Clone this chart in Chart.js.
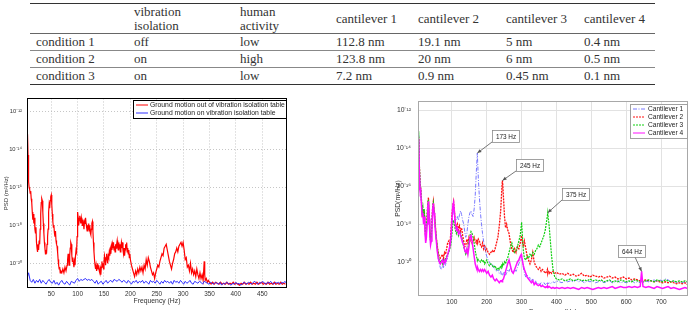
<!DOCTYPE html>
<html>
<head>
<meta charset="utf-8">
<script src="https://cdn.jsdelivr.net/npm/chart.js@4.4.0/dist/chart.umd.min.js"></script>
<style>
  body { margin: 0; width: 694px; height: 310px; overflow: hidden; background: #fff; position: relative; }
  #tbl { position: absolute; left: 30px; top: 3px; width: 625px; border-collapse: collapse; table-layout: fixed;
         font-family: "Liberation Serif", "DejaVu Serif", serif; font-size: 13px; color: #333; }
  #tbl td { padding: 0 0 0 6px; white-space: nowrap; vertical-align: middle; }
  #tbl tr.hd td { height: 29px; line-height: 14px; border-top: 1.5px solid #333; border-bottom: 1px solid #666; }
  #tbl tr.rw td { height: 16px; line-height: 16px; border-bottom: 1px solid #888; }
  #tbl tr.rw.last td { border-bottom: 1.5px solid #333; }
  .box { position: absolute; }
</style>
</head>
<body>
<table id="tbl"></table>
<div class="box" style="left:0;top:90px;width:300px;height:220px"><canvas id="c1" width="300" height="220"></canvas></div>
<div class="box" style="left:380px;top:90px;width:314px;height:230px"><canvas id="c2" width="314" height="230"></canvas></div>
<script>
// ---- table values ----
var tableHead = ['', 'vibration\nisolation', 'human\nactivity', 'cantilever 1', 'cantilever 2', 'cantilever 3', 'cantilever 4'];
var conditions = ['condition 1', 'condition 2', 'condition 3'];
var isolation = ['off', 'on', 'on'];
var activity = ['low', 'high', 'low'];
var cant1 = ['112.8 nm', '123.8 nm', '7.2 nm'];
var cant2 = ['19.1 nm', '20 nm', '0.9 nm'];
var cant3 = ['5 nm', '6 nm', '0.45 nm'];
var cant4 = ['0.4 nm', '0.5 nm', '0.1 nm'];

// ---- left plot: ground motion, PSD as log10 values ----
var leftXTicks = [50, 100, 150, 200, 250, 300, 350, 400, 450];
var psdTicks = [1e-20, 1e-18, 1e-16, 1e-14, 1e-12];

var redFreq = [4,5,6,7,8,9,10,11,12,13,14,15,16,17,18,19,20,21,22,23,24,25,26,27,28,29,30,31,32,33,34,35,36,37,38,39,40,
  41,42,43,44,45,46,47,48,49,50,51,52,53,54,55,56,57,58,59,60,61,62,63,64,65,66,67,68,70,72,74,76,78,80,
  81,82,83,84,85,86,87,88,89,90,91,92,93,94,95,96,97,98,99,
  100,101,102,103,104,105,106,107,108,109,110,111,112,113,114,115,116,117,118,119,120,121,122,123,124,125,126,127,128,129,
  130,131,132,133,134,135,136,137,138,139,140,141,142,143,144,145,146,147,148,149,150,151,152,153,154,155,156,157,158,159,
  160,161,162,163,164,165,166,167,168,169,170,171,172,173,174,175,176,177,178,179,180,181,182,183,184,185,186,187,188,189,
  190,191,192,193,194,195,196,197,198,199,200,
  202,204,206,208,210,212,214,216,218,220,222,224,226,228,230,232,234,236,238,240,242,244,246,248,250,252,254,256,258,260,
  262,264,266,268,270,272,274,276,278,280,282,284,286,288,290,292,294,296,298,300,302,304,306,308,310,312,314,316,318,320,
  322,324,326,328,330,332,334,336,338,340,341,342,344,346,348,350,
  353,356,359,362,365,368,371,374,377,380,383,386,389,392,395,398,401,404,407,410,413,416,419,422,425,428,431,434,437,440,
  443,446,449,452,455,458,461,464,467,470,473,476,479,482,485,488,491,494];
var redLog = [-15.6,-13.2,-14.3,-15.7,-16.0,-16.1,-16.3,-16.2,-16.6,-16.8,-17.3,-17.7,-17.4,-17.9,-17.6,-18.2,-18.4,-18.1,-18.9,-19.2,-19.4,-19.0,-19.3,-18.8,-19.0,-18.2,-17.4,-16.8,-16.6,-16.7,-17.3,-17.9,-18.4,-18.9,-19.2,-19.5,-19.3,
  -19.5,-19.0,-18.6,-18.2,-17.3,-16.9,-17.1,-16.7,-16.5,-16.4,-16.9,-17.4,-17.8,-18.1,-18.0,-18.4,-18.6,-18.3,-18.8,-19.0,-19.1,-19.4,-19.8,-20.1,-20.3,-20.2,-20.5,-20.4,-20.5,-20.3,-20.5,-20.2,-20.4,-20.1,
  -19.8,-19.5,-19.8,-20.1,-19.6,-19.2,-18.9,-19.0,-19.6,-19.9,-19.7,-20.0,-20.2,-19.9,-20.1,-19.6,-19.3,-19.4,-18.6,
  -17.3,-17.6,-18.0,-17.7,-17.5,-17.7,-17.9,-17.6,-17.8,-18.0,-17.7,-17.9,-18.2,-17.8,-17.9,-17.6,-17.9,-18.1,-18.3,-18.0,-18.2,-17.9,-18.3,-18.0,-18.4,-18.5,-18.2,-17.9,-17.8,-18.3,
  -18.9,-19.4,-19.8,-20.1,-20.3,-20.1,-20.4,-20.2,-20.0,-20.3,-20.1,-20.4,-20.5,-20.3,-20.6,-20.2,-19.9,-20.2,-20.0,-20.3,-19.9,-19.6,-19.8,-20.1,-19.7,-19.5,-19.8,-20.0,-19.6,-19.7,
  -19.4,-19.6,-19.3,-19.5,-19.1,-19.3,-19.0,-19.2,-18.9,-19.3,-19.1,-19.4,-19.0,-19.2,-19.0,-18.8,-19.1,-19.3,-18.9,-19.2,-19.0,-19.4,-19.1,-18.9,-19.2,-18.9,-19.3,-19.5,-19.2,-19.6,
  -19.3,-19.0,-19.2,-18.9,-19.4,-19.2,-19.5,-19.3,-19.7,-19.5,-19.8,
  -20.1,-20.3,-20.5,-20.7,-20.4,-20.6,-20.3,-20.5,-20.2,-20.4,-20.2,-20.5,-20.1,-20.3,-19.8,-20.1,-19.7,-19.9,-20.2,-20.4,-20.6,-20.5,-20.8,-20.5,-20.3,-20.1,-20.2,-19.9,-19.7,-19.5,
  -19.6,-19.2,-19.1,-19.0,-19.3,-19.6,-19.9,-20.1,-20.3,-20.0,-19.8,-19.5,-19.4,-19.2,-19.4,-19.1,-19.0,-18.9,-19.1,-18.9,-19.3,-19.8,-19.7,-20.2,-20.1,-20.4,-20.0,-20.5,-20.3,-20.6,
  -20.4,-20.7,-20.3,-20.6,-20.8,-20.5,-20.8,-20.6,-20.9,-19.9,-20.6,-20.9,-20.8,-21.0,-20.9,-21.0,
  -21.1,-21.0,-21.1,-21.0,-21.05,-21.1,-21.0,-21.1,-21.05,-21.1,-21.0,-21.1,-21.05,-21.1,-21.0,-21.1,-21.05,-21.1,-21.15,-21.05,-21.1,-21.0,-21.1,-21.05,-21.1,-21.0,-21.1,-21.05,-21.1,-21.0,
  -21.1,-21.05,-21.0,-21.1,-21.05,-21.1,-21.0,-21.1,-21.05,-21.1,-21.0,-21.1,-21.05,-21.1,-21.0,-21.1,-21.05,-21.1];

var blueFreq = [4,7,10,13,16,19,22,25,28,31,34,37,40,43,46,49,52,55,58,61,64,67,70,73,76,79,82,85,88,91,
  94,97,100,103,106,109,112,115,118,121,124,127,130,133,136,139,142,145,148,151,154,157,160,163,166,169,172,175,178,181,
  184,187,190,193,196,199,202,205,208,211,214,217,220,223,226,229,232,235,238,241,244,247,250,253,256,259,262,265,268,271,
  274,277,280,283,286,289,292,295,298,301,304,307,310,313,316,319,322,325,328,331,334,337,340,343,346,349,352,355,358,361,
  364,367,370,373,376,379,382,385,388,391,394,397,400,403,406,409,412,415,418,421,424,427,430,433,436,439,442,445,448,451,
  454,457,460,463,466,469,472,475,478,481,484,487,490,493,496];
var blueLog = [-20.8,-20.5,-20.9,-21.0,-20.85,-21.05,-20.9,-21.0,-20.85,-21.05,-20.9,-21.0,-21.1,-20.95,-20.85,-21.0,-21.05,-20.9,-21.1,-21.0,
  -21.15,-21.0,-20.9,-21.05,-21.1,-20.95,-21.05,-21.15,-20.95,-21.0,-21.05,-20.9,-20.8,-20.95,-20.85,-20.9,-20.85,-20.8,-20.9,-20.85,
  -20.9,-20.85,-20.95,-21.05,-20.9,-21.1,-21.0,-20.95,-21.1,-21.0,-20.9,-21.05,-20.95,-20.9,-21.0,-20.85,-20.9,-20.95,-20.85,-20.9,
  -21.0,-20.9,-20.95,-21.05,-20.9,-21.0,-21.1,-20.95,-21.0,-20.9,-21.05,-20.95,-21.0,-20.9,-21.05,-20.95,-21.0,-21.1,-20.9,-21.0,
  -20.95,-21.05,-20.9,-21.0,-21.1,-20.95,-21.05,-20.9,-21.0,-20.95,-21.05,-20.95,-21.1,-20.9,-21.0,-20.95,-21.05,-20.9,-21.0,-21.1,
  -20.95,-21.05,-21.0,-20.9,-21.05,-21.1,-20.95,-21.0,-21.05,-20.95,-21.0,-21.1,-20.95,-21.0,-21.05,-21.1,-21.0,-21.05,-21.1,-21.0,
  -21.05,-21.1,-21.0,-21.15,-21.05,-21.1,-21.0,-21.05,-21.1,-21.15,-21.05,-21.1,-21.0,-21.1,-21.05,-21.15,-21.1,-21.0,-21.05,-21.1,
  -21.0,-21.05,-21.1,-21.0,-20.95,-21.05,-21.1,-21.0,-21.05,-20.95,-21.05,-21.1,-21.0,-21.05,-20.95,-21.05,-21.1,-21.0,-21.05,-21.0,
  -21.1,-21.0,-21.05,-20.95,-21.05];

// ---- right plot: cantilever PSD, log10 values on a shared frequency grid ----
var rightXTicks = [100, 200, 300, 400, 500, 600, 700];
var rightFreq = [3,5,7,9,11,13,15,17,19,21, 23,25,27,29,31,33,35,37,39,41, 43,45,47,49,51,53,55,58,61,64,
  67,70,73,76,79,82,85,88,91,94, 97,100,103,105,107,110,113,116,119,122, 125,128,131,134,137,140,143,146,149,152,
  155,158,161,164,167,170,172,173,174,176, 179,182,185,188,191,194,197,200,204,208, 212,216,220,224,228,232,236,240,242,244,
  245,246,248,251,254,257,260,264,268,272, 276,280,284,288,292,296,299,300,302,305, 308,312,316,320,324,328,332,336,340,344,
  348,352,356,360,364,368,372,374,375,376, 379,382,386,390,395,400,408,416,424,432, 440,448,456,464,472,480,488,496,504,512,
  520,528,536,544,552,560,568,576,584,592, 600,608,616,624,632,640,644,648,656,664, 672,680,688,696,704,712,720,728,736,744,
  752,760,768,776];
var cant1Log = [-16.4,-13.3,-15.2,-16.0,-16.3,-16.9,-17.5,-17.3,-17.9,-17.6, -18.3,-18.9,-18.6,-17.9,-17.0,-16.8,-17.6,-18.5,-19.0,-18.8,
  -18.1,-17.2,-16.9,-17.3,-17.8,-18.3,-18.7,-19.3,-19.8,-20.1, -20.3,-20.4,-20.2,-20.3,-20.0,-20.2,-19.9,-19.8,-19.5,-19.3,
  -19.0,-18.3,-17.4,-17.2,-17.5,-17.9,-17.7,-17.6,-17.8,-17.5, -17.3,-17.5,-17.8,-18.0,-18.4,-18.7,-18.5,-18.0,-17.6,-17.4,
  -17.3,-17.5,-17.6,-17.2,-16.5,-15.3,-14.6,-14.25,-14.7,-15.6, -16.6,-17.4,-18.0,-18.5,-18.9,-19.2,-19.5,-19.7,-19.9,-20.0,
  -20.2,-20.1,-20.3,-20.4,-20.5,-20.4,-20.6,-20.5,-20.7,-20.6, -20.6,-20.7,-20.6,-20.5,-20.7,-20.6,-20.4,-20.5,-20.3,-20.5,
  -20.6,-20.4,-20.5,-20.3,-20.1,-19.9,-19.7,-19.6,-19.9,-20.3, -20.6,-20.8,-20.7,-20.9,-20.8,-21.0,-20.9,-21.1,-21.0,-21.2,
  -21.1,-21.2,-21.1,-21.2,-21.1,-21.2,-21.1,-21.2,-21.1,-21.15, -21.1,-21.15,-21.1,-21.05,-21.1,-21.0,-21.05,-21.1,-21.0,-21.05,
  -21.0,-21.05,-20.95,-21.05,-21.0,-21.1,-21.0,-21.05,-21.0,-21.1, -21.05,-21.0,-21.1,-21.05,-21.0,-21.1,-21.05,-21.0,-21.1,-21.05,
  -21.1,-21.05,-21.0,-21.1,-21.05,-21.1,-21.05,-21.1,-21.0,-21.05, -21.0,-20.95,-21.05,-20.95,-21.0,-20.9,-20.95,-21.05,-21.0,-21.1,
  -21.05,-21.1,-21.05,-21.1];
var cant2Log = [-16.3,-13.4,-15.0,-15.8,-16.2,-16.8,-17.4,-17.2,-17.7,-17.3, -18.1,-18.7,-18.4,-17.7,-16.9,-16.6,-17.4,-18.3,-18.8,-18.6,
  -17.9,-17.1,-16.8,-17.2,-17.6,-18.1,-18.6,-19.1,-19.5,-19.7, -19.8,-19.7,-19.6,-19.8,-19.5,-19.6,-19.3,-19.0,-18.9,-19.1,
  -18.5,-17.6,-17.0,-16.8,-17.2,-17.9,-18.2,-18.0,-18.3,-18.1, -18.4,-18.2,-18.6,-18.9,-19.2,-19.1,-18.8,-19.0,-18.7,-18.9,
  -18.8,-19.0,-18.9,-18.7,-18.9,-19.0,-18.8,-18.9,-19.0,-18.8, -18.9,-19.1,-19.2,-19.0,-19.3,-19.1,-19.4,-19.3,-19.5,-19.6,
  -19.5,-19.4,-19.5,-19.3,-19.0,-18.7,-18.1,-17.3,-16.6,-15.9, -15.7,-15.9,-16.6,-17.6,-18.2,-18.0,-18.3,-18.5,-19.0,-19.3,
  -19.5,-19.3,-19.5,-19.2,-19.3,-19.0,-18.7,-18.6,-18.9,-19.2, -18.9,-19.3,-19.7,-19.9,-20.1,-19.9,-19.5,-20.0,-20.2,-20.3,
  -20.4,-20.3,-20.5,-20.4,-20.5,-20.6,-20.5,-20.4,-20.6,-20.5, -20.6,-20.5,-20.6,-20.5,-20.6,-20.55,-20.65,-20.6,-20.7,-20.6,
  -20.7,-20.65,-20.75,-20.7,-20.6,-20.75,-20.7,-20.8,-20.7,-20.75, -20.8,-20.75,-20.85,-20.8,-20.75,-20.85,-20.8,-20.9,-20.85,-20.8,
  -20.9,-20.85,-20.95,-20.9,-20.95,-21.0,-20.95,-21.0,-20.95,-21.0, -21.0,-21.05,-21.0,-21.05,-21.1,-21.05,-21.1,-21.05,-21.1,-21.15,
  -21.1,-21.15,-21.1,-21.2];
var cant3Log = [-16.2,-13.1,-14.9,-15.8,-16.2,-16.7,-17.3,-17.1,-17.6,-17.2, -18.0,-18.6,-18.3,-17.6,-16.9,-16.7,-17.5,-18.4,-18.9,-18.7,
  -18.0,-17.2,-16.9,-17.3,-17.7,-18.2,-18.7,-19.2,-19.6,-19.9, -20.0,-19.9,-20.1,-19.9,-20.0,-19.8,-19.7,-19.6,-19.5,-19.3,
  -19.1,-18.6,-17.9,-17.8,-18.0,-18.3,-18.5,-18.3,-18.6,-18.4, -18.5,-18.7,-18.9,-19.2,-19.4,-19.6,-19.5,-19.3,-18.9,-18.6,
  -18.4,-18.5,-18.7,-19.0,-19.4,-19.7,-19.8,-19.9,-19.8,-19.9, -19.9,-20.0,-19.9,-20.0,-19.9,-20.1,-20.0,-19.9,-20.1,-20.2,
  -20.1,-20.2,-20.3,-20.2,-20.4,-20.3,-20.4,-20.2,-20.3,-20.1, -20.2,-20.1,-20.2,-20.0,-20.1,-19.9,-19.8,-19.5,-19.2,-19.0,
  -19.3,-19.5,-19.4,-19.2,-18.9,-18.6,-18.1,-17.9,-18.5,-19.4, -19.8,-19.9,-19.7,-19.8,-19.6,-19.7,-19.5,-19.6,-19.4,-19.3,
  -19.1,-19.2,-19.0,-18.8,-18.6,-18.3,-17.8,-17.55,-17.4,-17.6, -18.1,-18.8,-19.7,-20.4,-20.8,-20.9,-20.95,-20.9,-21.0,-20.95,
  -20.9,-21.0,-20.95,-20.9,-21.0,-20.95,-21.0,-20.9,-21.0,-20.95, -21.0,-20.95,-21.05,-21.0,-20.95,-21.05,-21.0,-21.05,-20.95,-21.0,
  -21.05,-21.0,-21.05,-20.95,-21.0,-21.05,-21.0,-21.05,-21.0,-20.95, -21.0,-21.05,-20.95,-21.0,-21.05,-20.95,-21.0,-21.05,-21.0,-21.05,
  -21.0,-21.05,-21.0,-21.05];
var cant4Log = [-16.5,-13.5,-15.3,-16.1,-16.4,-17.0,-17.6,-17.4,-18.0,-17.6, -18.4,-19.0,-18.7,-18.0,-17.1,-16.8,-17.7,-18.6,-19.1,-18.9,
  -18.2,-17.2,-16.9,-17.4,-17.9,-18.4,-18.8,-19.4,-19.8,-20.0, -20.1,-20.0,-19.9,-20.1,-19.9,-20.0,-19.8,-19.6,-19.4,-19.2,
  -18.8,-17.9,-17.0,-16.85,-17.3,-18.0,-18.3,-18.2,-18.5,-18.4, -18.6,-18.8,-19.0,-19.1,-19.4,-19.5,-19.3,-19.6,-19.2,-18.7,
  -18.6,-18.9,-19.3,-19.7,-20.1,-20.3,-20.4,-20.4,-20.3,-20.4, -20.5,-20.4,-20.5,-20.4,-20.5,-20.4,-20.5,-20.6,-20.5,-20.7,
  -20.8,-20.7,-20.9,-21.0,-20.9,-21.0,-21.1,-21.0,-21.0,-21.05, -21.0,-20.95,-20.9,-20.7,-20.5,-20.3,-20.1,-19.9,-20.2,-20.5,
  -20.6,-20.4,-20.2,-20.0,-19.9,-19.7,-19.6,-19.7,-19.9,-20.2, -20.4,-20.6,-20.8,-20.9,-21.0,-21.1,-21.0,-21.2,-21.1,-21.2,
  -21.25,-21.2,-21.3,-21.25,-21.3,-21.35,-21.3,-21.35,-21.3,-21.35, -21.3,-21.35,-21.4,-21.35,-21.4,-21.35,-21.4,-21.35,-21.4,-21.35,
  -21.4,-21.35,-21.4,-21.45,-21.35,-21.4,-21.35,-21.4,-21.45,-21.4, -21.35,-21.4,-21.35,-21.4,-21.35,-21.3,-21.4,-21.35,-21.3,-21.35,
  -21.35,-21.3,-21.35,-21.3,-21.35,-21.3,-20.5,-21.3,-21.35,-21.3, -21.35,-21.4,-21.3,-21.35,-21.4,-21.35,-21.3,-21.4,-21.35,-21.4,
  -21.45,-21.4,-21.35,-21.4];

// labelled peaks
var peakFreq = [173, 245, 375, 644];
var peakLog = [-14.25, -15.7, -17.4, -20.5];

// ---- build the table ----
var tbl = document.getElementById('tbl');
var colW = [98, 106, 96, 82, 88, 78, 77];
var cg = document.createElement('colgroup');
colW.forEach(function (w) { var c = document.createElement('col'); c.style.width = w + 'px'; cg.appendChild(c); });
tbl.appendChild(cg);
function addRow(cells, cls) {
  var tr = document.createElement('tr');
  tr.className = cls;
  cells.forEach(function (t) {
    var td = document.createElement('td');
    t.split('\n').forEach(function (line, i) {
      if (i) td.appendChild(document.createElement('br'));
      td.appendChild(document.createTextNode(line));
    });
    tr.appendChild(td);
  });
  tbl.appendChild(tr);
}
addRow(tableHead, 'hd');
for (var r = 0; r < conditions.length; r++) {
  addRow([conditions[r], isolation[r], activity[r], cant1[r], cant2[r], cant3[r], cant4[r]],
    r === conditions.length - 1 ? 'rw last' : 'rw');
}

// ---- helpers ----
Chart.defaults.font.family = '"Liberation Sans", Arial, sans-serif';
Chart.defaults.color = '#333';

var sup = { '-': '\u207B', '0': '\u2070', '1': '\u00B9', '2': '\u00B2', '3': '\u00B3', '4': '\u2074',
            '5': '\u2075', '6': '\u2076', '7': '\u2077', '8': '\u2078', '9': '\u2079' };
function powLabel(v) {
  var e = String(Math.round(Math.log10(v)));
  return '10' + e.split('').map(function (c) { return sup[c]; }).join('');
}
function pts(freq, logs) {
  return freq.map(function (f, i) { return { x: f, y: Math.pow(10, logs[i]) }; });
}
function setTicks(list) {
  return function (axis) { axis.ticks = list.map(function (v) { return { value: v }; }); };
}

// frame around the plot area
var frameBox = {
  id: 'frameBox',
  afterDraw: function (chart, args, o) {
    var a = chart.chartArea, ctx = chart.ctx;
    ctx.save();
    ctx.strokeStyle = o.color;
    ctx.lineWidth = o.width;
    ctx.strokeRect(Math.round(a.left) + 0.5, Math.round(a.top) + 0.5, Math.round(a.right - a.left) - 1, Math.round(a.bottom - a.top) - 1);
    ctx.restore();
  }
};

// legend box drawn inside the plot area
var boxLegend = {
  id: 'boxLegend',
  afterDraw: function (chart, args, o) {
    var a = chart.chartArea, ctx = chart.ctx;
    var x = Math.round(a.right - o.right - o.width), y = Math.round(a.top + o.top);
    ctx.save();
    ctx.fillStyle = '#fff';
    ctx.fillRect(x, y, o.width, o.height);
    ctx.strokeStyle = o.border;
    ctx.lineWidth = 1;
    ctx.strokeRect(x + 0.5, y + 0.5, o.width, o.height);
    ctx.font = o.font;
    ctx.textBaseline = 'middle';
    chart.data.datasets.forEach(function (ds, i) {
      var cy = y + o.pad + o.rowH * (i + 0.5);
      ctx.strokeStyle = ds.borderColor;
      ctx.lineWidth = 1;
      ctx.setLineDash(ds.borderDash || []);
      ctx.beginPath();
      ctx.moveTo(x + o.line0, cy);
      ctx.lineTo(x + o.line1, cy);
      ctx.stroke();
      ctx.setLineDash([]);
      ctx.fillStyle = '#222';
      ctx.fillText(ds.label, x + o.textX, cy);
    });
    ctx.restore();
  }
};

// text boxes with arrows pointing at the resonance peaks
var peakNotes = {
  id: 'peakNotes',
  afterDraw: function (chart, args, o) {
    var ctx = chart.ctx, xs = chart.scales.x, ys = chart.scales.y;
    ctx.save();
    ctx.font = o.font;
    ctx.textAlign = 'center';
    ctx.textBaseline = 'middle';
    peakFreq.forEach(function (f, i) {
      var px = xs.getPixelForValue(f), py = ys.getPixelForValue(Math.pow(10, peakLog[i]));
      var b = o.boxes[i];
      var bx = Math.round(px + b[0]), by = Math.round(py + b[1]);
      var sx = bx + b[2], sy = by + o.h;
      ctx.strokeStyle = o.arrow;
      ctx.fillStyle = o.arrow;
      ctx.lineWidth = 0.8;
      ctx.beginPath();
      ctx.moveTo(sx, sy);
      ctx.lineTo(px, py);
      ctx.stroke();
      var ang = Math.atan2(py - sy, px - sx);
      ctx.beginPath();
      ctx.moveTo(px, py);
      ctx.lineTo(px - 4.5 * Math.cos(ang - 0.4), py - 4.5 * Math.sin(ang - 0.4));
      ctx.lineTo(px - 4.5 * Math.cos(ang + 0.4), py - 4.5 * Math.sin(ang + 0.4));
      ctx.closePath();
      ctx.fill();
      ctx.fillStyle = '#fff';
      ctx.fillRect(bx, by, o.w, o.h);
      ctx.strokeStyle = o.border;
      ctx.strokeRect(bx + 0.5, by + 0.5, o.w, o.h);
      ctx.fillStyle = '#222';
      ctx.fillText(f + ' Hz', bx + o.w / 2 + 0.5, by + o.h / 2 + 1);
    });
    ctx.restore();
  }
};

// ---- left chart ----
new Chart(document.getElementById('c1'), {
  type: 'line',
  data: {
    datasets: [
      { label: 'Ground motion out of vibration isolation table', data: pts(redFreq, redLog),
        borderColor: '#ff0000', borderWidth: 1.2, pointRadius: 0, order: 1 },
      { label: 'Ground motion on vibration isolation table', data: pts(blueFreq, blueLog),
        borderColor: '#3030ff', borderWidth: 1, pointRadius: 0, order: 0 }
    ]
  },
  options: {
    responsive: false, animation: false, events: [],
    layout: { padding: { top: 8, right: 13, left: 0, bottom: 0 } },
    plugins: {
      legend: { display: false }, tooltip: { enabled: false },
      frameBox: { color: '#000', width: 1 },
      boxLegend: { right: 1, top: 2, width: 153, height: 18, pad: 1, rowH: 8, line0: 3, line1: 15, textX: 17,
                   border: '#000', font: '6.8px "Liberation Sans", Arial, sans-serif' }
    },
    scales: {
      x: {
        type: 'linear', min: 4, max: 497,
        afterBuildTicks: setTicks(leftXTicks),
        afterFit: function (a) { a.height = 22; },
        ticks: { font: { size: 6.4 }, padding: 2, maxRotation: 0 },
        grid: { color: '#b8b8b8', lineWidth: 0.8, drawTicks: false },
        border: { display: false, dash: [1, 2] },
        title: { display: true, text: 'Frequency (Hz)', font: { size: 6.8 }, padding: { top: 0, bottom: 5 } }
      },
      y: {
        type: 'logarithmic', min: Math.pow(10, -21.28), max: Math.pow(10, -11.32),
        afterBuildTicks: setTicks(psdTicks),
        afterFit: function (a) { a.width = 27; },
        ticks: { font: { size: 5.8 }, padding: 5, callback: function (v) { return powLabel(v); } },
        grid: { color: '#b8b8b8', lineWidth: 0.8, drawTicks: false },
        border: { display: false, dash: [1, 2] },
        title: { display: true, text: 'PSD (m\u00B2/Hz)', font: { size: 6 }, padding: { top: 2.5, bottom: 0 } }
      }
    }
  },
  plugins: [frameBox, boxLegend]
});

// ---- right chart ----
new Chart(document.getElementById('c2'), {
  type: 'line',
  data: {
    datasets: [
      { label: 'Cantilever 1', data: pts(rightFreq, cant1Log), borderColor: '#7878ff', borderWidth: 1,
        borderDash: [4, 1.5, 1, 1.5], pointRadius: 0, order: 2 },
      { label: 'Cantilever 2', data: pts(rightFreq, cant2Log), borderColor: '#ff1010', borderWidth: 1.3,
        borderDash: [2, 1], pointRadius: 0, order: 3 },
      { label: 'Cantilever 3', data: pts(rightFreq, cant3Log), borderColor: '#10d010', borderWidth: 1.2,
        borderDash: [2, 1], pointRadius: 0, order: 1 },
      { label: 'Cantilever 4', data: pts(rightFreq, cant4Log), borderColor: '#ff10ff', borderWidth: 1.5,
        pointRadius: 0, order: 0 }
    ]
  },
  options: {
    responsive: false, animation: false, events: [],
    layout: { padding: { top: 9, right: 6, left: 0, bottom: 0 } },
    plugins: {
      legend: { display: false }, tooltip: { enabled: false },
      frameBox: { color: '#a8a8a8', width: 1 },
      boxLegend: { right: 1, top: 3, width: 57, height: 34, pad: 1, rowH: 8, line0: 3, line1: 15, textX: 18,
                   border: '#a0a0a0', font: '6.6px "Liberation Sans", Arial, sans-serif' },
      peakNotes: { w: 27, h: 12, font: '6.4px "Liberation Sans", Arial, sans-serif', arrow: '#555', border: '#8a8a8a',
                   boxes: [[15, -23, 0], [14, -22, 0], [14, -25, 0], [-24, -26, 17]] }
    },
    scales: {
      x: {
        type: 'linear', min: 3, max: 777,
        afterBuildTicks: setTicks(rightXTicks),
        afterFit: function (a) { a.height = 24; },
        ticks: { font: { size: 6.6 }, padding: 2.5, maxRotation: 0 },
        grid: { color: '#e2e2e2', lineWidth: 1, drawTicks: false },
        border: { display: false },
        title: { display: true, text: 'Frequency (Hz)', font: { size: 7 }, padding: { top: 0, bottom: 3.5 } }
      },
      y: {
        type: 'logarithmic', min: Math.pow(10, -21.8), max: Math.pow(10, -11.5),
        afterBuildTicks: setTicks(psdTicks),
        afterFit: function (a) { a.width = 38; },
        ticks: { font: { size: 6.8 }, padding: 7, callback: function (v) { return powLabel(v); } },
        grid: { color: '#e2e2e2', lineWidth: 1, drawTicks: false },
        border: { display: false },
        title: { display: true, text: 'PSD(m\u00B2/Hz)', font: { size: 6.8 }, padding: { top: 14.5, bottom: 0 } }
      }
    }
  },
  plugins: [frameBox, boxLegend, peakNotes]
});
</script>
</body>
</html>
